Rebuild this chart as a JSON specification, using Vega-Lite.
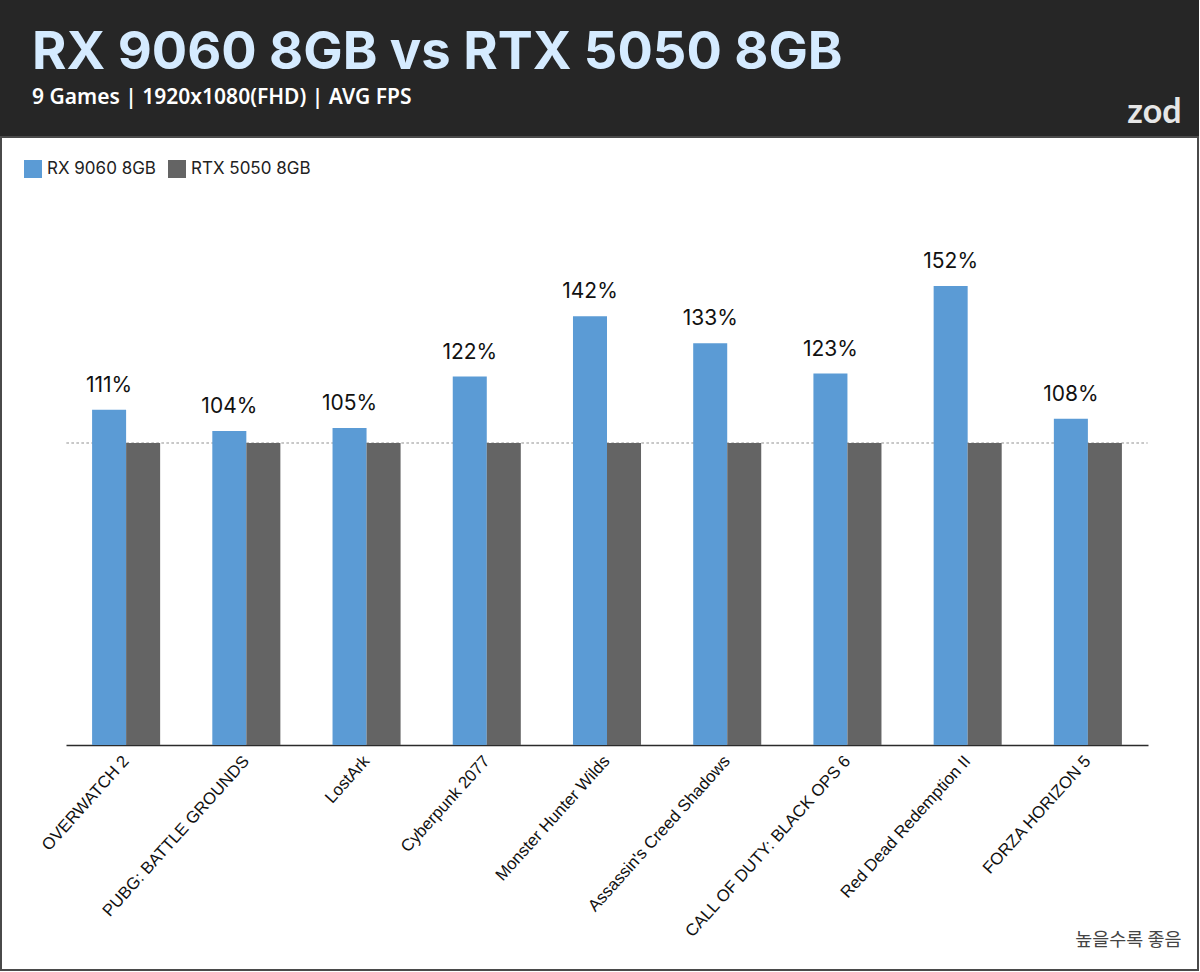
{
  "$schema": "https://vega.github.io/schema/vega-lite/v6.json",
  "width": 1197,
  "height": 833,
  "padding": {"left": 1, "top": 26, "right": 1, "bottom": 1},
  "background": "#262626",
  "view": {"fill": "#ffffff", "stroke": "#4a4a4a", "strokeWidth": 2},
  "title": {
    "text": "RX 9060 8GB vs RTX 5050 8GB",
    "subtitle": "9 Games | 1920x1080(FHD) | AVG FPS",
    "anchor": "start",
    "frame": "group",
    "dx": 31,
    "offset": -14,
    "font": "Inter",
    "fontSize": 52.5,
    "fontWeight": 700,
    "color": "#d5ebff",
    "subtitleFont": "Noto Sans",
    "subtitleFontSize": 21,
    "subtitleFontWeight": 600,
    "subtitleColor": "#ffffff",
    "subtitlePadding": 7
  },
  "data": {
    "values": [
      {"game": "OVERWATCH 2", "gpu": "RX 9060 8GB", "value": 111, "label": "111%"},
      {"game": "OVERWATCH 2", "gpu": "RTX 5050 8GB", "value": 100, "label": "100%"},
      {"game": "PUBG: BATTLE GROUNDS", "gpu": "RX 9060 8GB", "value": 104, "label": "104%"},
      {"game": "PUBG: BATTLE GROUNDS", "gpu": "RTX 5050 8GB", "value": 100, "label": "100%"},
      {"game": "LostArk", "gpu": "RX 9060 8GB", "value": 105, "label": "105%"},
      {"game": "LostArk", "gpu": "RTX 5050 8GB", "value": 100, "label": "100%"},
      {"game": "Cyberpunk 2077", "gpu": "RX 9060 8GB", "value": 122, "label": "122%"},
      {"game": "Cyberpunk 2077", "gpu": "RTX 5050 8GB", "value": 100, "label": "100%"},
      {"game": "Monster Hunter Wilds", "gpu": "RX 9060 8GB", "value": 142, "label": "142%"},
      {"game": "Monster Hunter Wilds", "gpu": "RTX 5050 8GB", "value": 100, "label": "100%"},
      {"game": "Assassin's Creed Shadows", "gpu": "RX 9060 8GB", "value": 133, "label": "133%"},
      {"game": "Assassin's Creed Shadows", "gpu": "RTX 5050 8GB", "value": 100, "label": "100%"},
      {"game": "CALL OF DUTY: BLACK OPS 6", "gpu": "RX 9060 8GB", "value": 123, "label": "123%"},
      {"game": "CALL OF DUTY: BLACK OPS 6", "gpu": "RTX 5050 8GB", "value": 100, "label": "100%"},
      {"game": "Red Dead Redemption II", "gpu": "RX 9060 8GB", "value": 152, "label": "152%"},
      {"game": "Red Dead Redemption II", "gpu": "RTX 5050 8GB", "value": 100, "label": "100%"},
      {"game": "FORZA HORIZON 5", "gpu": "RX 9060 8GB", "value": 108, "label": "108%"},
      {"game": "FORZA HORIZON 5", "gpu": "RTX 5050 8GB", "value": 100, "label": "100%"}
    ]
  },
  "layer": [
    {
      "mark": {"type": "rule", "strokeDash": [2, 3], "color": "#c8c8c8", "strokeWidth": 1.5},
      "encoding": {
        "y": {"datum": 100, "type": "quantitative"},
        "x": {"datum": "OVERWATCH 2", "type": "nominal", "bandPosition": -0.37},
        "x2": {"datum": "FORZA HORIZON 5", "bandPosition": 1.37}
      }
    },
    {
      "mark": {"type": "bar"},
      "encoding": {
        "x": {
          "field": "game",
          "type": "nominal",
          "sort": null,
          "scale": {
            "domain": ["OVERWATCH 2", "PUBG: BATTLE GROUNDS", "LostArk", "Cyberpunk 2077", "Monster Hunter Wilds", "Assassin's Creed Shadows", "CALL OF DUTY: BLACK OPS 6", "Red Dead Redemption II", "FORZA HORIZON 5"],
            "range": [65, 1147],
            "paddingInner": 0.434,
            "paddingOuter": 0.217
          },
          "axis": {
            "title": "높을수록 좋음",
            "titleFont": "Noto Sans CJK KR",
            "titleFontSize": 18.5,
            "titleFontWeight": "normal",
            "titleColor": "#444444",
            "titleAnchor": "end",
            "titleAlign": "right",
            "titleBaseline": "alphabetic",
            "titleX": 1180,
            "titleY": 200,
            "offset": -225,
            "labelAngle": -48,
            "labelFont": "Liberation Sans",
            "labelFontSize": 16.8,
            "labelColor": "#111111",
            "labelPadding": 13,
            "labelLimit": 300,
            "ticks": false,
            "domainColor": "#2b2b2b",
            "domainWidth": 1.5
          }
        },
        "xOffset": {"field": "gpu", "sort": ["RX 9060 8GB", "RTX 5050 8GB"]},
        "y": {
          "field": "value",
          "type": "quantitative",
          "scale": {"domain": [0, 180], "range": [608, 64.4]},
          "axis": {
            "orient": "right",
            "labels": false,
            "ticks": false,
            "domain": false,
            "grid": false,
            "title": "zod",
            "titleAngle": 0,
            "titleAlign": "right",
            "titleBaseline": "alphabetic",
            "titleX": -17,
            "titleY": -15,
            "titleFont": "Lato",
            "titleFontSize": 34,
            "titleFontWeight": "bold",
            "titleColor": "#e6e6e6"
          }
        },
        "color": {
          "field": "gpu",
          "type": "nominal",
          "scale": {"domain": ["RX 9060 8GB", "RTX 5050 8GB"], "range": ["#5b9bd5", "#646464"]},
          "legend": {
            "title": null,
            "orient": "top-left",
            "direction": "horizontal",
            "offset": 23,
            "symbolType": "square",
            "symbolSize": 324,
            "symbolStrokeWidth": 0,
            "labelFont": "Inter",
            "labelFontSize": 17,
            "labelColor": "#222222",
            "labelOffset": 5,
            "columnPadding": 12,
            "padding": 0
          }
        }
      }
    },
    {
      "transform": [{"filter": "datum.gpu === 'RX 9060 8GB'"}],
      "mark": {"type": "text", "dy": -18, "baseline": "alphabetic", "font": "Inter", "fontSize": 21, "color": "#111111"},
      "encoding": {
        "x": {"field": "game", "type": "nominal", "sort": null},
        "xOffset": {"field": "gpu", "sort": ["RX 9060 8GB", "RTX 5050 8GB"]},
        "y": {"field": "value", "type": "quantitative"},
        "text": {"field": "label"}
      }
    }
  ]
}
